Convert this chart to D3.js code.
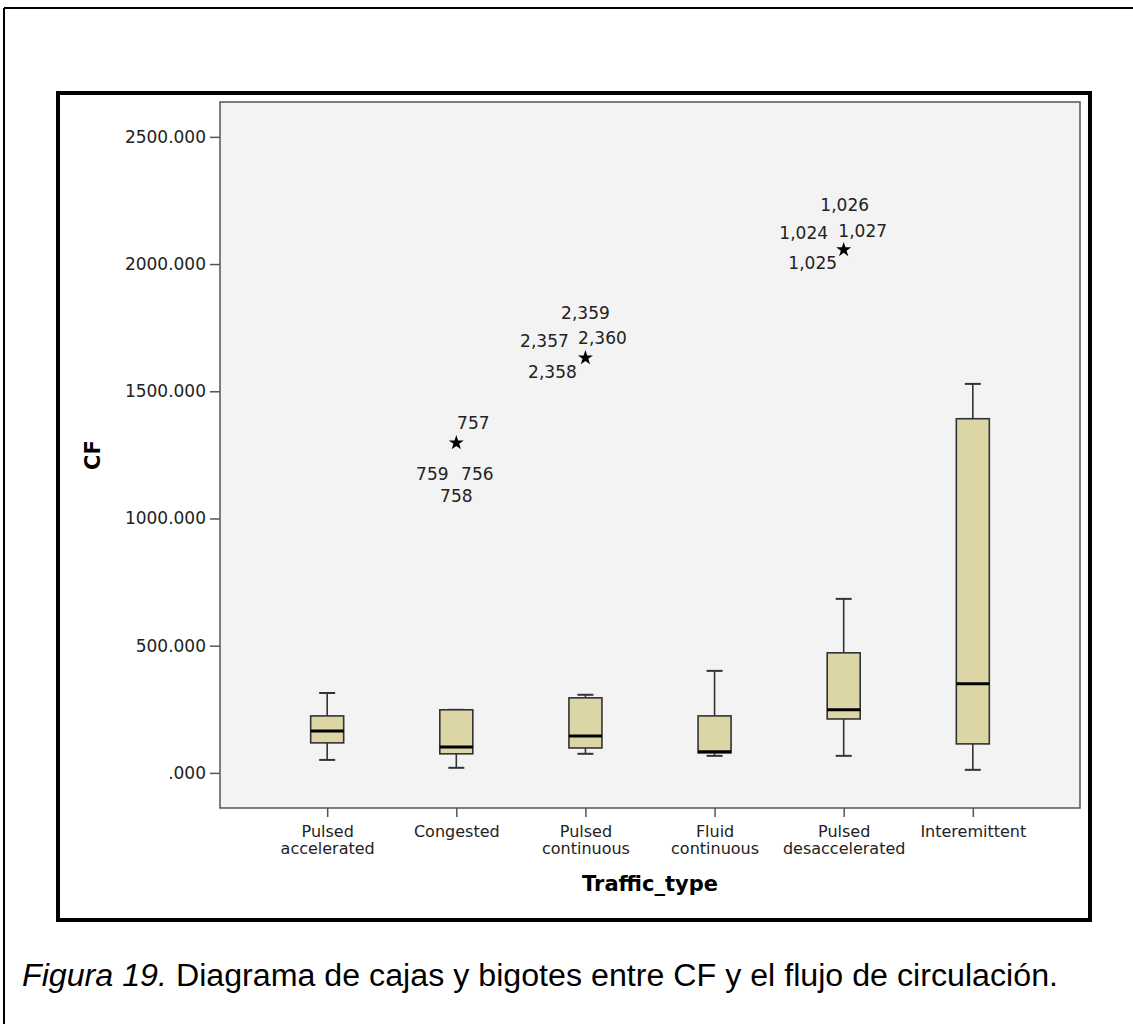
<!DOCTYPE html>
<html>
<head>
<meta charset="utf-8">
<script src="https://cdn.jsdelivr.net/npm/d3@7"></script>
<style>
  html, body { margin: 0; padding: 0; background: #fff; }
  svg { display: block; }
</style>
</head>
<body>
<svg id="chart" width="1133" height="1024"></svg>
<script>
// Traffic types (x categories), each label split over one or two lines
const categories = ["Pulsed accelerated", "Congested", "Pulsed continuous",
                    "Fluid continuous", "Pulsed desaccelerated", "Interemittent"];
const categoryLines = [["Pulsed", "accelerated"], ["Congested"], ["Pulsed", "continuous"],
                       ["Fluid", "continuous"], ["Pulsed", "desaccelerated"], ["Interemittent"]];

// Five-number summaries of CF per traffic type
const whiskerLow  = [51, 20, 75, 67, 67, 12];
const q1          = [118, 75, 98, 79, 212, 114];
const medians     = [165, 102, 145, 83, 248, 350];
const q3          = [224, 248, 295, 224, 472, 1392];
const whiskerHigh = [314, 248, 307, 401, 684, 1529];

// Extreme values (asterisks) with their case numbers
const extremeCategory = ["Congested", "Pulsed continuous", "Pulsed desaccelerated"];
const extremeValue    = [1297, 1631, 2056];
const extremeCases    = [["757", "759", "756", "758"],
                         ["2,359", "2,357", "2,360", "2,358"],
                         ["1,026", "1,024", "1,027", "1,025"]];

// Y axis
const yTicks = [0, 500, 1000, 1500, 2000, 2500];
const yDomain = [-138, 2637];

const yTitle = "CF";
const xTitle = "Traffic_type";
const captionItalic = "Figura 19.";
const captionText = " Diagrama de cajas y bigotes entre CF y el flujo de circulación.";

// ---- layout ----
const plot = { left: 220, right: 1080, top: 102, bottom: 808 };
const tickFont = "'DejaVu Sans', Verdana, sans-serif";
const ink = "#222";

const svg = d3.select("#chart");

// page border (top and left edges)
svg.append("line").attr("x1", 4).attr("x2", 1133).attr("y1", 8).attr("y2", 8)
  .attr("stroke", "#000").attr("stroke-width", 2);
svg.append("line").attr("x1", 4).attr("x2", 4).attr("y1", 8).attr("y2", 1024)
  .attr("stroke", "#000").attr("stroke-width", 2);

// chart frame
svg.append("rect").attr("x", 58).attr("y", 93).attr("width", 1032).attr("height", 827)
  .attr("fill", "#fff").attr("stroke", "#000").attr("stroke-width", 4);

const x = d3.scalePoint().domain(categories).range([plot.left, plot.right]).padding(0.83);
const y = d3.scaleLinear().domain(yDomain).range([plot.bottom, plot.top]);

// plot background
svg.append("rect")
  .attr("x", plot.left).attr("y", plot.top)
  .attr("width", plot.right - plot.left).attr("height", plot.bottom - plot.top)
  .attr("fill", "#f3f3f3");

// Y axis
const fmt = v => d3.format(".3f")(v).replace(/^0\./, ".");
const yAxis = svg.append("g")
  .attr("transform", `translate(${plot.left},0)`)
  .call(d3.axisLeft(y).tickValues(yTicks).tickFormat(fmt).tickSize(10).tickSizeOuter(0).tickPadding(4));
yAxis.select(".domain").remove();
yAxis.selectAll(".tick line").attr("stroke", "#555").attr("stroke-width", 1.5);
yAxis.selectAll(".tick text").attr("fill", ink).style("font-family", tickFont).style("font-size", "17px");

// X axis
const xAxis = svg.append("g")
  .attr("transform", `translate(0,${plot.bottom})`)
  .call(d3.axisBottom(x).tickSize(9).tickSizeOuter(0).tickFormat(() => ""));
xAxis.select(".domain").remove();
xAxis.selectAll(".tick line").attr("stroke", "#555").attr("stroke-width", 1.5);
xAxis.selectAll(".tick").each(function (d, i) {
  const t = d3.select(this).append("text")
    .attr("fill", ink).attr("text-anchor", "middle")
    .style("font-family", tickFont).style("font-size", "16px");
  categoryLines[i].forEach((ln, j) => {
    t.append("tspan").attr("x", 0).attr("y", 29 + j * 17).text(ln);
  });
});

// plot border
svg.append("rect")
  .attr("x", plot.left).attr("y", plot.top)
  .attr("width", plot.right - plot.left).attr("height", plot.bottom - plot.top)
  .attr("fill", "none").attr("stroke", "#555").attr("stroke-width", 1.5);

// boxes
const boxW = 33, capW = 16;
const boxes = svg.append("g");
categories.forEach((c, i) => {
  const cx = x(c);
  const g = boxes.append("g");
  const line = (x1, x2, y1, y2, w, col) => g.append("line")
    .attr("x1", x1).attr("x2", x2).attr("y1", y1).attr("y2", y2)
    .attr("stroke", col).attr("stroke-width", w);
  // whiskers
  line(cx, cx, y(q3[i]), y(whiskerHigh[i]), 1.6, "#333");
  line(cx, cx, y(q1[i]), y(whiskerLow[i]), 1.6, "#333");
  line(cx - capW / 2, cx + capW / 2, y(whiskerHigh[i]), y(whiskerHigh[i]), 2, "#333");
  line(cx - capW / 2, cx + capW / 2, y(whiskerLow[i]), y(whiskerLow[i]), 2, "#333");
  // box
  g.append("rect")
    .attr("x", cx - boxW / 2).attr("y", y(q3[i]))
    .attr("width", boxW).attr("height", y(q1[i]) - y(q3[i]))
    .attr("fill", "#dcd6a6").attr("stroke", "#333").attr("stroke-width", 1.6);
  // median
  line(cx - boxW / 2, cx + boxW / 2, y(medians[i]), y(medians[i]), 3, "#000");
});

// extreme values: asterisk plus case labels arranged around it
const caseOffsets = [
  [[17, -20], [-24, 31], [21, 31], [0, 53]],
  [[0, -45], [-41, -17], [17, -20], [-33, 14]],
  [[1, -45], [-40, -17], [19, -19], [-31, 13]]
];
const star = d3.symbol().type(d3.symbolStar).size(70);
extremeCategory.forEach((c, k) => {
  const cx = x(c), cy = y(extremeValue[k]);
  svg.append("path").attr("d", star).attr("transform", `translate(${cx},${cy})`).attr("fill", "#000");
  extremeCases[k].forEach((lab, j) => {
    svg.append("text")
      .attr("x", cx + caseOffsets[k][j][0]).attr("y", cy + caseOffsets[k][j][1])
      .attr("text-anchor", "middle").attr("dominant-baseline", "central")
      .attr("fill", ink).style("font-family", tickFont).style("font-size", "17px")
      .text(lab);
  });
});

// axis titles
svg.append("text")
  .attr("transform", "translate(93,455) rotate(-90)")
  .attr("text-anchor", "middle").attr("dominant-baseline", "central")
  .style("font-family", tickFont).style("font-weight", "bold").style("font-size", "21px")
  .attr("fill", "#000").text(yTitle);
svg.append("text")
  .attr("x", (plot.left + plot.right) / 2).attr("y", 884)
  .attr("text-anchor", "middle").attr("dominant-baseline", "central")
  .style("font-family", tickFont).style("font-weight", "bold").style("font-size", "21px")
  .attr("fill", "#000").text(xTitle);

// caption
const cap = svg.append("text")
  .attr("x", 22).attr("y", 986)
  .attr("textLength", 1036).attr("lengthAdjust", "spacingAndGlyphs")
  .style("font-family", "'Liberation Sans', Arial, sans-serif").style("font-size", "31px")
  .attr("fill", "#000");
cap.append("tspan").style("font-style", "italic").text(captionItalic);
cap.append("tspan").text(captionText);
</script>
</body>
</html>
